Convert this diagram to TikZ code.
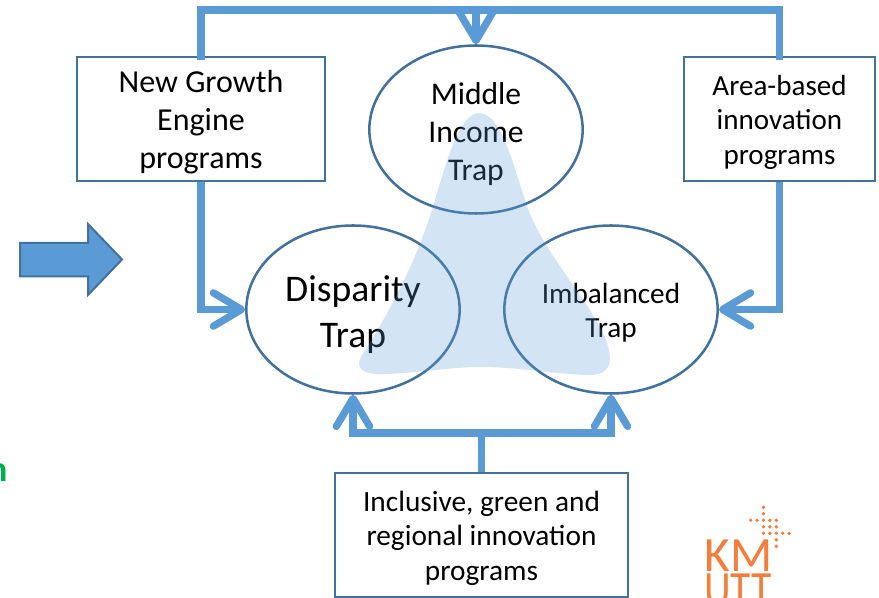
\documentclass[tikz,border=0pt]{standalone}
\usepackage{fontspec}
\setmainfont{Carlito}
\usetikzlibrary{arrows.meta,shapes.geometric}

\definecolor{linkblue}{RGB}{91,155,213}
\definecolor{edgeblue}{RGB}{65,113,156}
\definecolor{logoorange}{RGB}{244,125,60}
\definecolor{cutgreen}{RGB}{0,176,80}

\tikzset{every picture/.style={line width=0.75pt}}
\tikzset{
  trapellipse/.style={ellipse,draw=edgeblue,line width=1.9pt,inner sep=0pt,minimum width=160pt,minimum height=126pt,align=center},
  progbox/.style={rectangle,draw=edgeblue,line width=1.5pt,inner sep=0pt,minimum height=93pt,align=center},
  link/.style={draw=linkblue,line width=5.5pt},
  linkarrow/.style={link,-{Straight Barb[round,length=21pt,width=25pt,line width=5.5pt]}},
}

\begin{document}
\begin{tikzpicture}[x=0.75pt,y=0.75pt,yscale=-1,xscale=1]
\useasboundingbox (0,0) rectangle (879,598);

%Shape: Ellipse
\draw (476,129.5) node [trapellipse,font={\fontsize{23.7}{28.5}\selectfont}] (middle) {\rule{0pt}{24pt}Middle\\Income\\Trap};
\draw (353,309.5) node [trapellipse,font={\fontsize{28.2}{34.5}\selectfont}] (disparity) {\rule{0pt}{27pt}Disparity\\Trap};
\draw (611,309.5) node [trapellipse,font={\fontsize{21.9}{25.5}\selectfont}] (imbalanced) {\rule{0pt}{20.5pt}Imbalanced\\Trap};

%Shape: Rectangle
\draw (201,119) node [progbox,minimum width=186pt,font={\fontsize{24}{28.5}\selectfont}] (growth) {\rule{0pt}{21pt}New Growth\\Engine\\programs};
\draw (779.5,119) node [progbox,minimum width=143pt,font={\fontsize{21.8}{26}\selectfont}] (area) {\rule{0pt}{20pt}Area-based\\innovation\\programs};
\draw (481.5,535) node [progbox,minimum width=220pt,font={\fontsize{22}{26}\selectfont}] (inclusive) {\rule{0pt}{20pt}Inclusive, green and\\regional innovation\\programs};

%Shape: Free Form
\fill [linkblue,fill opacity=0.27] (479,113) .. controls (460,113) and (447,160) .. (435,200) .. controls (422,245) and (398,300) .. (362,355) .. controls (354,368) and (362,375) .. (385,374) .. controls (420,373) and (450,367) .. (482,367) .. controls (520,367) and (560,375) .. (590,375) .. controls (612,375) and (613,360) .. (606,340) .. controls (590,300) and (540,250) .. (525,200) .. controls (512,160) and (500,113) .. (479,113) -- cycle;

%Straight Lines
\coordinate (topbus) at (476,10);
\coordinate (lowbus) at (481.5,433);
\draw [link,line cap=rect] (growth.north) |- (topbus) -| (area.north);
\draw [linkarrow] (topbus) -- (middle.north);
\draw [linkarrow] (growth.south) |- (disparity.west);
\draw [linkarrow] (area.south) |- (imbalanced.east);
\draw [link] (inclusive.north) -- (lowbus);
\draw [linkarrow] (lowbus) -| (disparity.south);
\draw [linkarrow] (lowbus) -| (imbalanced.south);

%Shape: Right Arrow
\draw [draw=edgeblue,fill=linkblue,line width=1.5pt] (20,243) -- (88,243) -- (88,224) -- (122,259.5) -- (88,295) -- (88,276.5) -- (20,276.5) -- cycle;

% Text Node
\draw (8,482) node [anchor=base east,inner sep=0pt,text=cutgreen,font={\fontsize{27}{30}\selectfont\bfseries}] (cutoff) {n};

% Text Node
\draw (738.5,572) node [anchor=base,inner sep=0pt,text=logoorange,font={\fontsize{37}{40}\selectfont}] (logokm) {KM};
\draw (738,605) node [anchor=base,inner sep=0pt,text=logoorange,xscale=0.84,font={\fontsize{37}{40}\selectfont}] (logoutt) {UTT};
\foreach \col/\row in {2/0,2/1,0/2,1/2,2/2,3/2,4/2,2/3,3/3,4/3,2/4,3/4,4/4,5/4,6/4,4/5,4/6}
  \fill [logoorange] (750.7+6.4*\col,507.3+6.5*\row) circle [radius=1.9];

\end{tikzpicture}
\end{document}
